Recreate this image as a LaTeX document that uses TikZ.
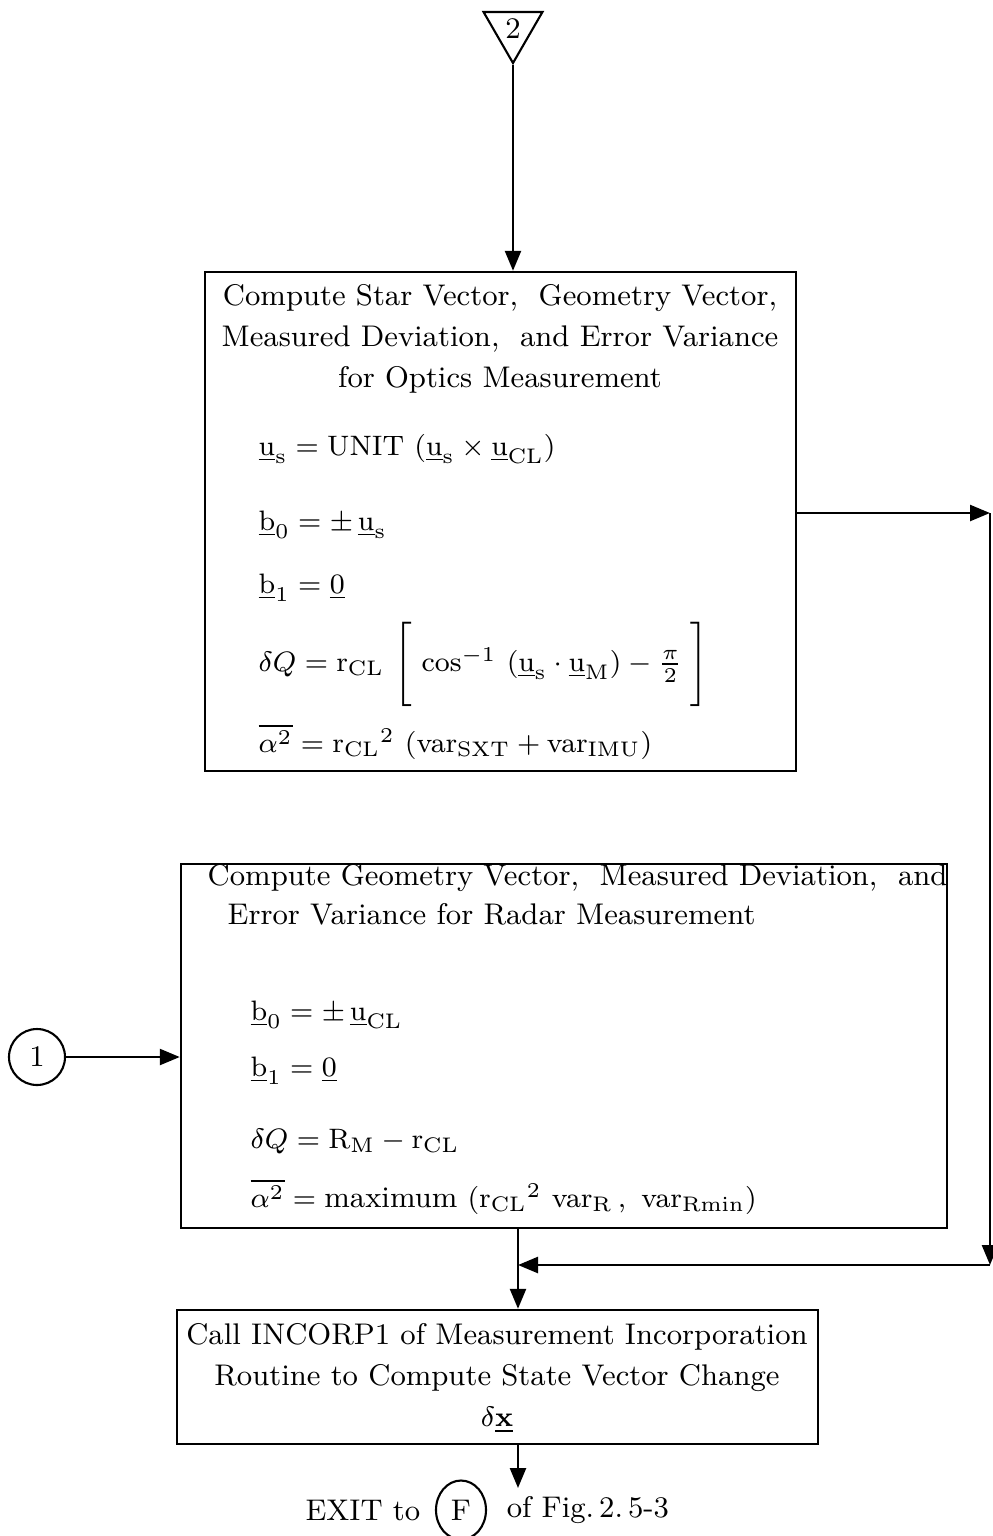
\documentclass[tikz,border=0pt]{standalone}
\usepackage{amsmath}
\usetikzlibrary{arrows.meta, positioning, shapes.geometric}

\newcommand{\vb}[1]{\underline{\mathrm{#1}}}

\begin{document}
\begin{tikzpicture}[x=0.1mm, y=-0.1mm,
        % one font size for all the text
        font=\fontsize{8.5}{11.7}\selectfont,
        % styles for the parts of the chart
        flow/.style={-{Triangle[length=2mm, width=1.6mm]}, line width=0.7pt},
        box/.style={draw, line width=0.7pt, rectangle, inner sep=0pt},
        title/.style={align=center, inner sep=0pt},
        eqn/.style={anchor=base west, inner sep=0pt},
        connector/.style={draw, line width=0.6pt, inner sep=0pt}
    ]

    \useasboundingbox (0,0) rectangle (993,1536);

    % entry connector
    \node[connector, regular polygon, regular polygon sides=3, shape border rotate=180,
        minimum size=6.8mm] (c2) at (513,29) {2};

    % optics box
    \node[box, minimum width=59.1mm, minimum height=49.9mm] (optics) at (500.5,521.5) {};
    \node[title] (opticsT) at (500,339) {Compute Star Vector,\ \ Geometry Vector,\\
        Measured Deviation,\ \ and Error Variance\\ for Optics Measurement};
    \node[eqn] (eqA) at (258,455) {$\vb{u}_{\mathrm{s}} = \mathrm{UNIT}\ (\vb{u}_{\mathrm{s}} \times \vb{u}_{\mathrm{CL}})$};
    \node[eqn] (eqB) at (258,530) {$\vb{b}_0 = \pm\,\vb{u}_{\mathrm{s}}$};
    \node[eqn] (eqC) at (258,593) {$\vb{b}_1 = \underline{0}$};
    \node[eqn] (eqD) at (258,671) {$\delta Q = \mathrm{r}_{\mathrm{CL}}\ \Bigg[\,\cos^{-1}\ (\vb{u}_{\mathrm{s}}\cdot\vb{u}_{\mathrm{M}}) - \tfrac{\pi}{2}\;\Bigg]$};
    \node[eqn] (eqE) at (258,752) {$\overline{\alpha^2} = {\mathrm{r}_{\mathrm{CL}}}^{2}\ (\mathrm{var}_{\mathrm{SXT}} + \mathrm{var}_{\mathrm{IMU}})$};

    % radar box
    \node[box, minimum width=76.6mm, minimum height=36.4mm] (radar) at (564,1046) {};
    \node[eqn] (radarT1) at (207,885) {Compute Geometry Vector,\ \ Measured Deviation,\ \ and};
    \node[eqn] (radarT2) at (227,924) {Error Variance for Radar Measurement};
    \node[eqn] (eqF) at (250,1020) {$\vb{b}_0 = \pm\,\vb{u}_{\mathrm{CL}}$};
    \node[eqn] (eqG) at (250,1076) {$\vb{b}_1 = \underline{0}$};
    \node[eqn] (eqH) at (250,1148) {$\delta Q = \mathrm{R}_{\mathrm{M}} - \mathrm{r}_{\mathrm{CL}}$};
    \node[eqn] (eqI) at (250,1207) {$\overline{\alpha^2} = \text{maximum}\ ({\mathrm{r}_{\mathrm{CL}}}^{2}\ \mathrm{var}_{\mathrm{R}}\,,\ \mathrm{var}_{\mathrm{Rmin}})$};

    \node[connector, circle, minimum size=5.6mm] (c1) at (37,1057) {1};

    % incorporation box
    \node[box, minimum width=64.1mm, minimum height=13.4mm] (incorp) at (497.5,1377) {};
    \node[title] (incorpT) at (497,1378) {Call INCORP1 of Measurement Incorporation\\
        Routine to Compute State Vector Change\\ $\delta\underline{\mathbf{x}}$};

    % exit
    \node[connector, ellipse, minimum width=5mm, minimum height=5.9mm] (cF) at (461,1510) {F};
    \node[anchor=east, inner sep=0pt] (exitL) at ([xshift=-1.4mm]cF.west) {EXIT to};
    \node[anchor=west, inner sep=0pt] (exitR) at ([xshift=1.9mm]cF.east) {of Fig.\,2.\,5-3};

    \coordinate (rTop) at (990,513);
    \coordinate (rBot) at (990,1265);
    \coordinate (join) at (518,1265);
    \coordinate (exitTip) at (518,1488);

    % connectors
    \draw[flow] (c2.south) -- (c2.south |- optics.north);
    \draw[flow] (optics.east |- rTop) -- (rTop);
    \draw[flow] (rTop) -- (rBot);
    \draw[flow] (rBot) -- (join);
    \draw[flow] (c1) -- (c1 -| radar.west);
    \draw[line width=0.7pt] (radar.south -| join) -- (join);
    \draw[flow] (join) -- (incorp.north -| join);
    \draw[flow] (incorp.south -| join) -- (exitTip);

\end{tikzpicture}
\end{document}
